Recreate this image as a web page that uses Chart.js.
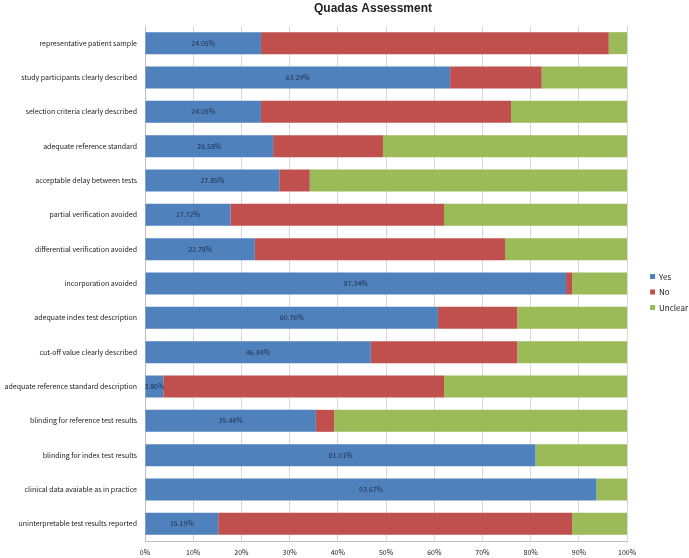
<!DOCTYPE html>
<html>
<head>
<meta charset="utf-8">
<title>Quadas Assessment</title>
<script src="https://cdn.jsdelivr.net/npm/chart.js@4"></script>
<style>
  html, body { margin: 0; padding: 0; background: #fff; }
  #wrap { width: 689px; height: 558px; position: relative; }
</style>
</head>
<body>
<div id="wrap"><canvas id="chartQuadas"></canvas></div>
<script>
// Datos
const categorias = [
  'representative patient sample',
  'study participants clearly described',
  'selection criteria clearly described',
  'adequate reference standard',
  'acceptable delay between tests',
  'partial verification avoided',
  'differential verification avoided',
  'incorporation avoided',
  'adequate index test description',
  'cut-off value clearly described',
  'adequate reference standard description',
  'blinding for reference test results',
  'blinding for index test results',
  'clinical data avaiable as in practice',
  'uninterpretable test results reported'
];
const yes     = [24.05, 63.29, 24.05, 26.58, 27.85, 17.72, 22.78, 87.34, 60.76, 46.84, 3.80, 35.44, 81.01, 93.67, 15.19];
const no      = [72.15, 18.99, 51.90, 22.78, 6.33, 44.30, 51.90, 1.27, 16.46, 30.38, 58.23, 3.80, 0, 0, 73.42];
const unclear = [3.80, 17.72, 24.05, 50.63, 65.82, 37.97, 25.32, 11.39, 22.78, 22.78, 37.97, 60.76, 18.99, 6.33, 11.39];
const xTicks  = [0, 10, 20, 30, 40, 50, 60, 70, 80, 90, 100];

// Paleta
const palette = {
  blue: '#4F81BD',
  red: '#C0504D',
  green: '#9BBB59',
  grid: '#d9d9d9',
  axis: '#bfbfbf',
  text: '#1a1a1a'
};

const labelFont = "'Noto Sans CJK SC', 'DejaVu Sans', sans-serif";

// Etiquetas de porcentaje dentro de la barra azul
const yesLabels = {
  id: 'yesLabels',
  afterDatasetsDraw(chart) {
    const meta = chart.getDatasetMeta(0);
    const ctx = chart.ctx;
    ctx.save();
    ctx.font = '7px ' + labelFont;
    ctx.fillStyle = '#1f2f4a';
    ctx.textAlign = 'center';
    ctx.textBaseline = 'middle';
    meta.data.forEach((bar, i) => {
      const { x, y, base } = bar.getProps(['x', 'y', 'base'], true);
      ctx.fillText(yes[i].toFixed(2) + '%', (x + base) / 2, y);
    });
    ctx.restore();
  }
};

// Título dibujado a mano
const titulo = {
  id: 'titulo',
  afterDraw(chart) {
    const ctx = chart.ctx;
    ctx.save();
    ctx.font = "bold 12px 'Liberation Sans', Arial, sans-serif";
    ctx.fillStyle = '#222';
    ctx.textAlign = 'center';
    ctx.textBaseline = 'middle';
    ctx.fillText('Quadas Assessment', 373, 9);
    ctx.restore();
  }
};

new Chart(document.getElementById('chartQuadas'), {
  type: 'bar',
  data: {
    labels: categorias,
    datasets: [
      { label: 'Yes', data: yes, backgroundColor: palette.blue },
      { label: 'No', data: no, backgroundColor: palette.red },
      { label: 'Unclear', data: unclear, backgroundColor: palette.green }
    ].map(d => ({ ...d, barPercentage: 0.64, categoryPercentage: 1, borderWidth: 0 }))
  },
  options: {
    indexAxis: 'y',
    responsive: true,
    maintainAspectRatio: false,
    animation: false,
    layout: { padding: { top: 26, left: 0, right: -9, bottom: 0 } },
    plugins: {
      title: { display: false },
      tooltip: { enabled: false },
      legend: {
        position: 'right',
        labels: {
          boxWidth: 5,
          boxHeight: 5,
          padding: 7.5,
          color: palette.text,
          font: { size: 8, family: labelFont }
        }
      }
    },
    scales: {
      x: {
        stacked: true,
        min: 0,
        max: 100,
        afterBuildTicks: s => { s.ticks = xTicks.map(v => ({ value: v })); },
        afterFit: s => { s.height = 17; },
        ticks: {
          callback: v => v + '%',
          color: palette.text,
          font: { size: 7, family: labelFont },
          padding: 7,
          maxRotation: 0
        },
        grid: { color: palette.grid, drawTicks: false },
        border: { display: true, color: palette.axis, width: 1 }
      },
      y: {
        stacked: true,
        afterFit: s => { s.width = 145; },
        ticks: {
          color: palette.text,
          font: { size: 7, family: labelFont },
          padding: 8,
          autoSkip: false
        },
        grid: { display: false, drawTicks: false },
        border: { color: palette.axis, width: 1 }
      },
      // eje vacío: hueco entre el gráfico y la leyenda
      hueco: {
        type: 'category',
        position: 'right',
        afterFit: s => { s.width = 15.5; },
        ticks: { display: false },
        grid: { display: false, drawTicks: false },
        border: { display: false }
      }
    }
  },
  plugins: [yesLabels, titulo]
});
</script>
</body>
</html>
